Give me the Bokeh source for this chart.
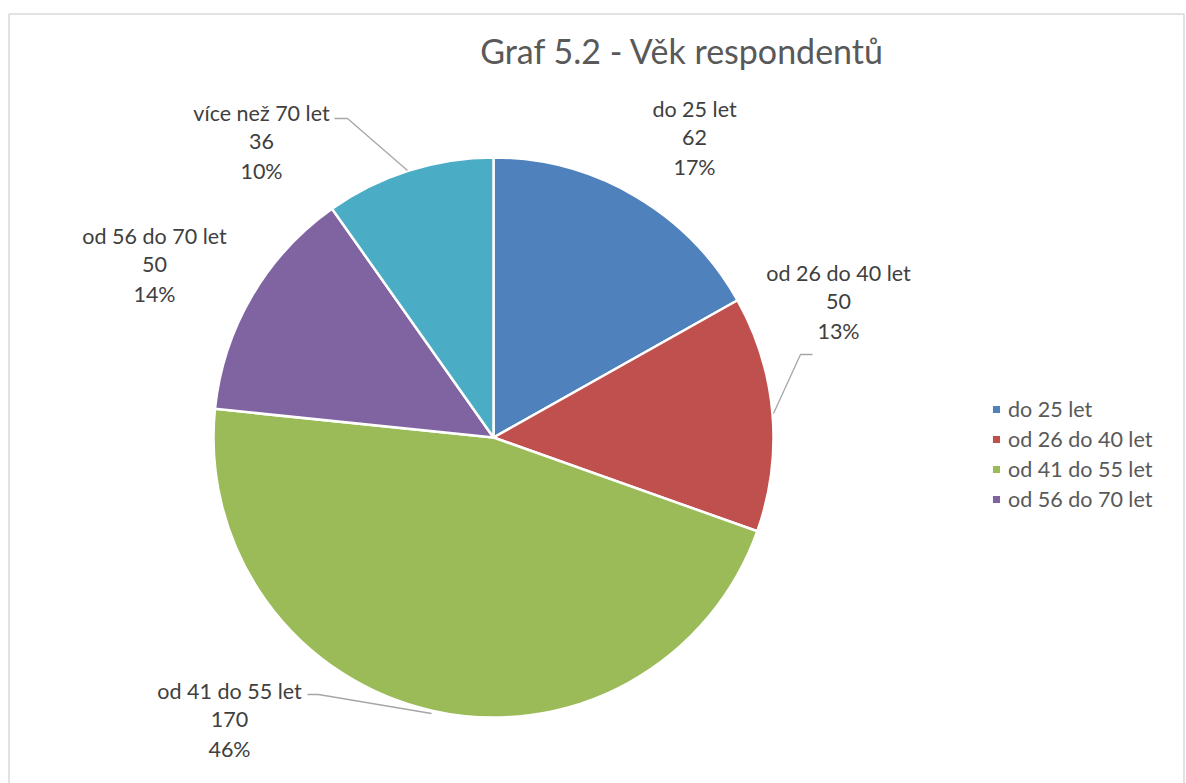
import math
from bokeh.plotting import figure
from bokeh.models import ColumnDataSource, Range1d, Legend, LegendItem
from bokeh.core.properties import value
from bokeh.embed import file_html
from bokeh.resources import INLINE

# ---- data ----
categories = ["do 25 let", "od 26 do 40 let", "od 41 do 55 let", "od 56 do 70 let", "více než 70 let"]
counts = [62, 50, 170, 50, 36]
pct_labels = ["17%", "13%", "46%", "14%", "10%"]
colors = ["#4F81BD", "#C0504D", "#9BBB59", "#8064A2", "#4BACC6"]
title_text = "Graf 5.2 - Věk respondentů"

# ---- layout (screen pixels of the page) ----
W, H = 1186, 783
OX, OY = 0, 0
def dx(sx):
    return sx - OX
def dy(sy):
    return (OY + H) - sy

CX, CY, R = 493, 437, 280
label_pos = [(694, 108), (838, 272), (229, 690), (154, 235), (261, 112)]
line_gap = 29.3
leaders = [
    None,
    [(812, 354), (800, 354), (773, 413)],
    [(307, 694), (318, 694), (431, 713)],
    None,
    [(334, 118), (347, 118), (407, 170)],
]

total = float(sum(counts))
starts, ends = [], []
acc = 0.0
for c in counts:
    starts.append(math.pi / 2 - 2 * math.pi * acc / total)
    acc += c
    ends.append(math.pi / 2 - 2 * math.pi * acc / total)

src = ColumnDataSource(dict(
    cat=categories, count=counts, color=colors,
    start=starts, end=ends,
    x=[dx(CX)] * len(counts), y=[dy(CY)] * len(counts),
))

p = figure(width=W, height=H, output_backend="svg", toolbar_location=None,
           x_range=Range1d(0, W), y_range=Range1d(0, H),
           min_border=0, min_border_left=0, min_border_right=0,
           min_border_top=0, min_border_bottom=0)
p.axis.visible = False
p.grid.visible = False
p.outline_line_color = None
p.background_fill_color = "white"
p.border_fill_color = "white"

# chart area border (left, top, right; bottom is cut off in reference)
p.line(x=[dx(8.5), dx(8.5), dx(1183.5), dx(1183.5)],
       y=[dy(800), dy(13.5), dy(13.5), dy(800)],
       line_color="#d9d9d9", line_width=1.5)

wedges = p.wedge(x="x", y="y", radius=R, radius_units="screen",
                 start_angle="start", end_angle="end", direction="clock",
                 fill_color="color", line_color="white", line_width=2.5,
                 source=src)

# leader lines
for ld in leaders:
    if ld:
        p.line(x=[dx(a) for a, b in ld], y=[dy(b) for a, b in ld],
               line_color="#a6a6a6", line_width=1.3)

# data labels
tx, ty, tt = [], [], []
for i, (lx, ly) in enumerate(label_pos):
    for k, s in enumerate([categories[i], str(counts[i]), pct_labels[i]]):
        tx.append(dx(lx))
        ty.append(dy(ly + k * line_gap))
        tt.append(s)
p.text(x=tx, y=ty, text=tt, text_align="center", text_baseline="middle",
       text_font=value("Lato"), text_font_size="21.5px", text_color="#404040")

# title
p.text(x=[dx(682)], y=[dy(50)], text=[title_text], text_align="center",
       text_baseline="middle", text_font=value("Lato"), text_font_size="34px",
       text_color="#595959")

# legend (only first four entries visible, like the reference)
items = [LegendItem(label=categories[i], renderers=[wedges], index=i) for i in range(4)]
legend = Legend(items=items, location=(dx(990), dy(512)),
                glyph_width=12, glyph_height=12, label_standoff=6,
                label_height=21, spacing=4, padding=0, margin=0,
                border_line_color=None, background_fill_alpha=0,
                label_text_font="Lato", label_text_font_size="21.5px",
                label_text_color="#595959")
p.add_layout(legend, "center")

open("out.html", "w").write(file_html(p, INLINE))
